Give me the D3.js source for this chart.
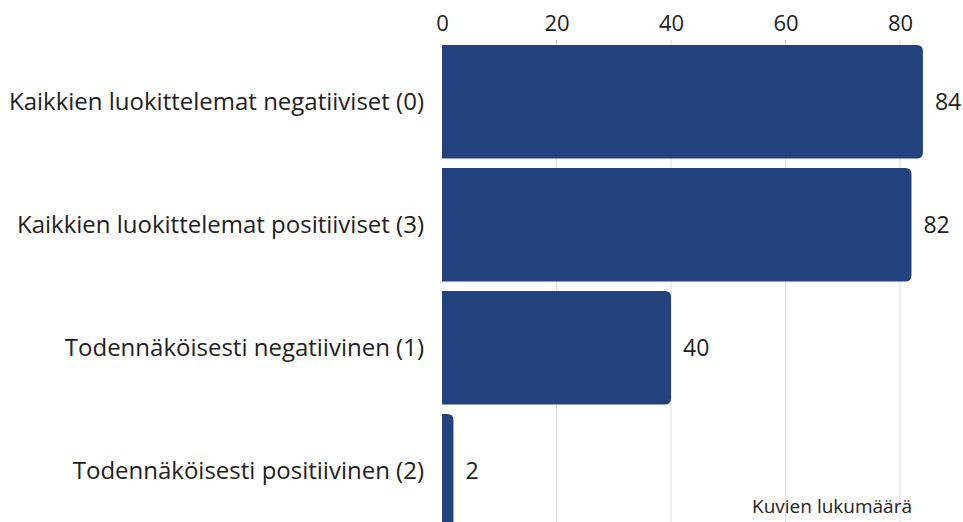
<!DOCTYPE html>
<html>
<head>
<meta charset="utf-8">
<script src="https://cdn.jsdelivr.net/npm/d3@7/dist/d3.min.js"></script>
<style>
  html, body { margin: 0; padding: 0; background: #fff; }
  svg { display: block; font-family: "Open Sans", sans-serif; }
</style>
</head>
<body>
<svg id="chart" width="963" height="522"></svg>
<script>
// Luokat ja kuvien lukumäärät
const categories = [
  "Kaikkien luokittelemat negatiiviset (0)",
  "Kaikkien luokittelemat positiiviset (3)",
  "Todennäköisesti negatiivinen (1)",
  "Todennäköisesti positiivinen (2)"
];
const counts = [84, 82, 40, 2];
const tickValues = [0, 20, 40, 60, 80];
const axisTitle = "Kuvien lukumäärä";

const width = 963, height = 522;
const svg = d3.select("#chart");

const x = d3.scaleLinear().domain([0, 80]).range([442, 900]);
const y = d3.scaleBand()
  .domain(categories)
  .range([40.3, 532.3])
  .paddingInner(0.077)
  .paddingOuter(0.0385);

const barColor = "#23437f";
const textColor = "#222";

// Pystysuorat apuviivat
svg.append("g")
  .selectAll("line")
  .data(tickValues.filter(d => d > 0))
  .join("line")
  .attr("x1", d => x(d)).attr("x2", d => x(d))
  .attr("y1", 40).attr("y2", height)
  .attr("stroke", "#dedede")
  .attr("stroke-width", 1);

// Ylä-akseli
const axis = d3.axisTop(x).tickValues(tickValues).tickSize(0).tickPadding(0);
const gAxis = svg.append("g").attr("transform", "translate(0,31)").call(axis);
gAxis.select(".domain").remove();
gAxis.selectAll("text")
  .attr("font-family", "Open Sans, sans-serif")
  .attr("font-size", 22)
  .attr("fill", textColor)
  .attr("dy", 0);

// Palkit: oikeassa päässä pyöristetyt kulmat
function barPath(x0, x1, y0, h, r) {
  const w = x1 - x0;
  const rr = Math.min(r, w, h / 2);
  return `M${x0},${y0}H${x1 - rr}Q${x1},${y0} ${x1},${y0 + rr}` +
         `V${y0 + h - rr}Q${x1},${y0 + h} ${x1 - rr},${y0 + h}H${x0}Z`;
}

svg.append("g")
  .selectAll("path")
  .data(categories.map((c, i) => ({ c, v: counts[i] })))
  .join("path")
  .attr("d", d => barPath(x(0), x(d.v), y(d.c), y.bandwidth(), 6))
  .attr("fill", barColor);

// Arvotekstit
svg.append("g")
  .selectAll("text")
  .data(categories.map((c, i) => ({ c, v: counts[i] })))
  .join("text")
  .attr("x", d => x(d.v) + 12)
  .attr("y", d => y(d.c) + y.bandwidth() / 2)
  .attr("dy", "0.35em")
  .attr("font-size", 23)
  .attr("fill", textColor)
  .text(d => d.v);

// Luokkien nimet
svg.append("g")
  .selectAll("text")
  .data(categories)
  .join("text")
  .attr("x", 424)
  .attr("y", d => y(d) + y.bandwidth() / 2)
  .attr("dy", "0.35em")
  .attr("text-anchor", "end")
  .attr("font-size", 24)
  .attr("fill", textColor)
  .text(d => d);

// Akselin otsikko
svg.append("text")
  .attr("x", 912)
  .attr("y", 513)
  .attr("text-anchor", "end")
  .attr("font-size", 19)
  .attr("fill", textColor)
  .text(axisTitle);
</script>
</body>
</html>
